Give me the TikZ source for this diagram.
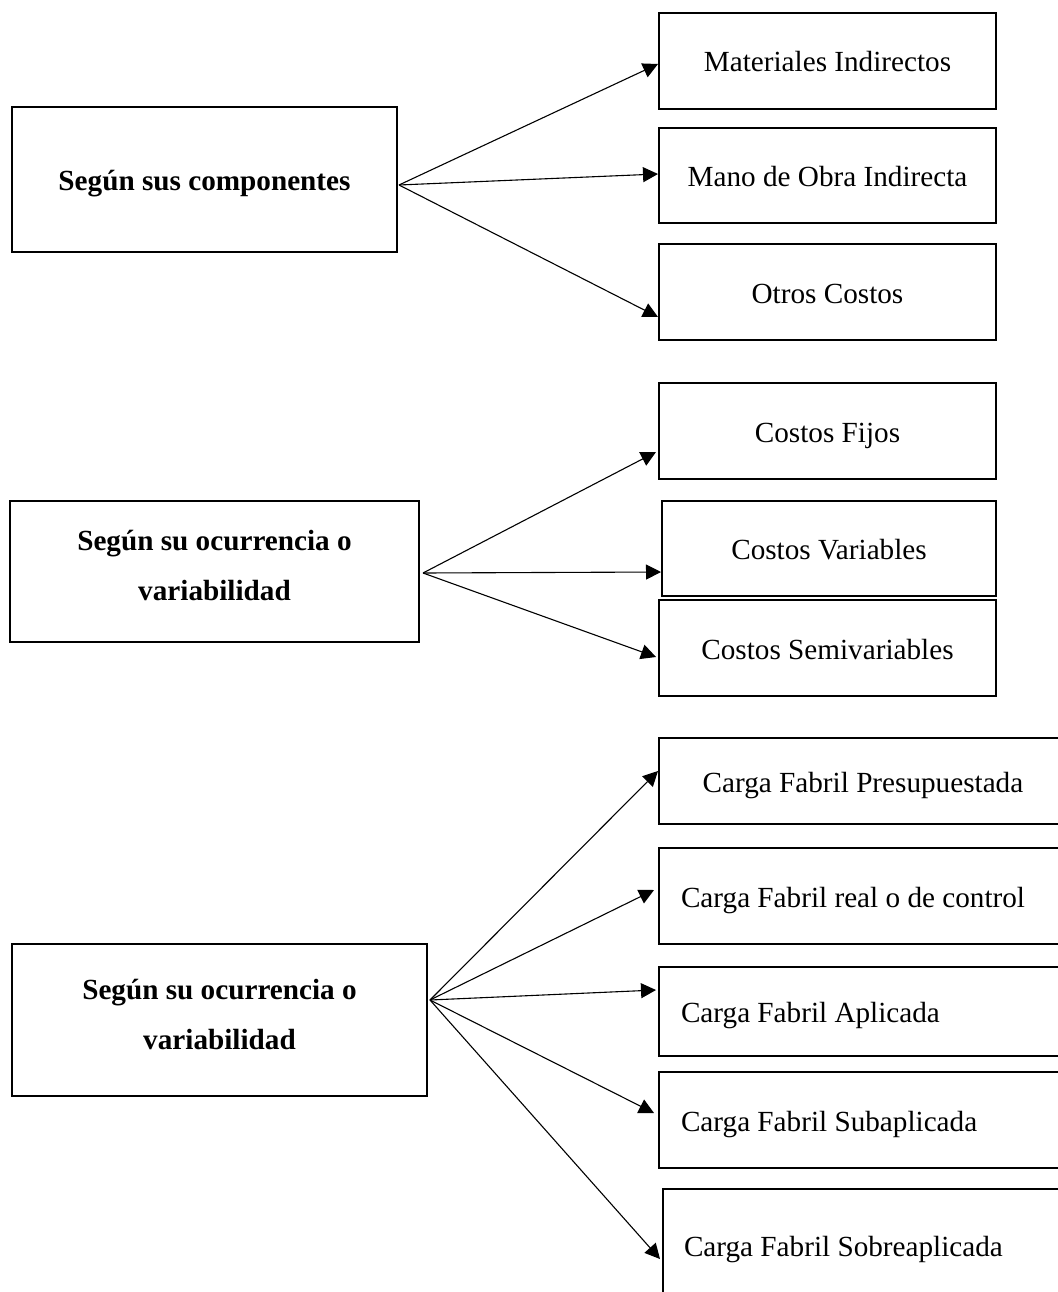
\documentclass[tikz,border=0pt]{standalone}
\usepackage{fontspec}
\setmainfont{Liberation Serif}
\usetikzlibrary{arrows.meta,calc}

\begin{document}
\begin{tikzpicture}[x=1pt,y=-1pt,
    box/.style={draw, line width=2pt, rectangle, inner sep=0pt,
      font=\fontsize{29.2}{50}\selectfont},
    catbox/.style={box},
    cattext/.style={font=\fontsize{29.2}{50}\selectfont\bfseries, align=center, inner sep=0pt},
    itembox/.style={box, minimum width=337pt, minimum height=96pt,
      text height=22pt, text depth=0pt},
    widebox/.style={box, minimum height=96pt, text width=364pt, inner xsep=22pt,
      align=flush left, text height=22pt, text depth=0pt},
    link/.style={line width=1.1pt, -{Triangle[length=15pt,width=15pt]}}]

\useasboundingbox (0,0) rectangle (1057,1292);

% classification boxes on the left
\node[catbox, minimum width=385pt, minimum height=145pt,
      font=\fontsize{29.2}{50}\selectfont\bfseries, text height=21pt, text depth=0pt] (L1)
  at (204.5,179.5) {Según sus componentes};
\node[catbox, minimum width=409pt, minimum height=141pt] (L2) at (214.5,571.5) {};
\node[cattext] (L2t) at ($(L2.center)+(0,-6)$) {Según su ocurrencia o\\variabilidad};
\node[catbox, minimum width=415pt, minimum height=152pt] (L3) at (219.5,1020) {};
\node[cattext] (L3t) at ($(L3.center)+(0,-6)$) {Según su ocurrencia o\\variabilidad};

% first group
\node[itembox] (R1) at (827.5,61) {Materiales Indirectos};
\node[itembox, minimum height=95pt] (R2) at (827.5,175.5) {Mano de Obra Indirecta};
\node[itembox] (R3) at (827.5,292) {Otros Costos};

% second group
\node[itembox] (R4) at (827.5,431) {Costos Fijos};
\node[itembox, minimum width=334pt, minimum height=95pt] (R5) at (829,548.5) {Costos Variables};
\node[itembox] (R6) at (827.5,648) {Costos Semivariables};

% third group
\node[itembox, minimum width=408pt, minimum height=86pt] (R7) at (863,781)
  {Carga Fabril Presupuestada};
\node[widebox] (R8) at (863,896) {Carga Fabril real o de control};
\node[widebox, minimum height=89pt] (R9) at (863,1011.5) {Carga Fabril Aplicada};
\node[widebox] (R10) at (863,1120) {Carga Fabril Subaplicada};
\node[widebox, minimum height=112pt, inner xsep=21pt, text width=362pt] (R11) at (865,1245)
  {Carga Fabril Sobreaplicada};

% connectors
\coordinate (s1) at ($(L1.east)+(1,5.5)$);
\coordinate (s2) at ($(L2.east)+(3,1.5)$);
\coordinate (s3) at ($(L3.east)+(2,-20)$);

\draw[link] (s1) -- ($(R1.west)+(0,3)$);
\draw[link] (s1) -- ($(R2.west)+(0,-1.5)$);
\draw[link] (s1) -- ($(R3.west)+(0,25)$);

\draw[link] (s2) -- ($(R4.west)+(-2,21)$);
\draw[link] (s2) -- ($(R5.west)+(0,23.5)$);
\draw[link] (s2) -- ($(R6.west)+(-2,9)$);

\draw[link] (s3) -- ($(R7.west)+(0,-10)$);
\draw[link] (s3) -- ($(R8.west)+(-4,-6)$);
\draw[link] (s3) -- ($(R9.west)+(-2,-21.5)$);
\draw[link] (s3) -- ($(R10.west)+(-4,-7)$);
\draw[link] (s3) -- ($(R11.west)+(-2,14)$);
\end{tikzpicture}
\end{document}
